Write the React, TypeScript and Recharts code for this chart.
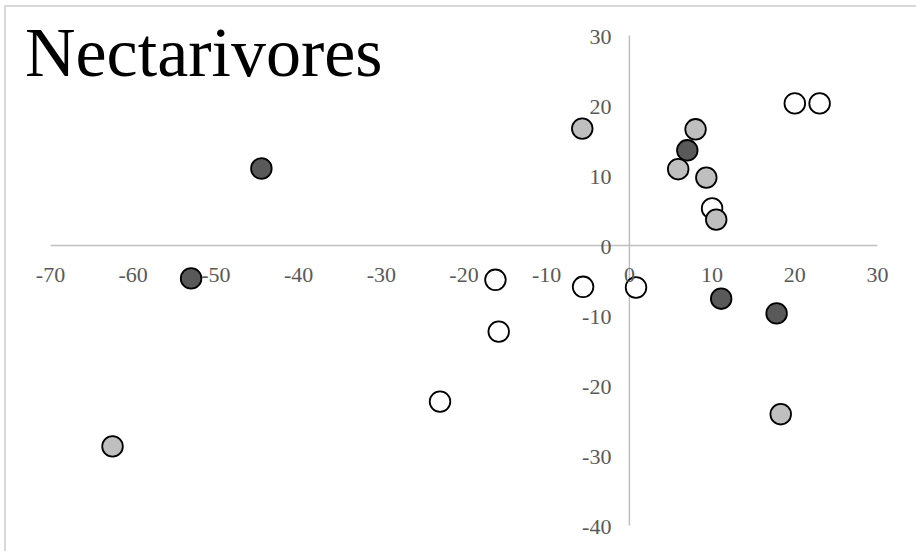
import React from "react";
import { ScatterChart, Scatter, XAxis, YAxis, ReferenceLine } from "recharts";

const xTicks = [-70, -60, -50, -40, -30, -20, -10, 0, 10, 20, 30];
const yTicks = [-40, -30, -20, -10, 0, 10, 20, 30];

const darkX = [-44.5, -53.0, 7.0, 11.1, 17.8];
const darkY = [11.0, -4.7, 13.6, -7.6, -9.7];

const grayX = [-5.7, 8.0, 5.9, 9.3, 10.5, 18.3, -62.5];
const grayY = [16.7, 16.6, 10.9, 9.7, 3.7, -24.1, -28.7];

const whiteX = [20.0, 23.0, 10.0, -16.2, -15.8, -22.9, -5.6, 0.8];
const whiteY = [20.3, 20.3, 5.3, -4.9, -12.3, -22.3, -5.9, -6.0];

const toPoints = (xs: number[], ys: number[]) => xs.map((x, i) => ({ x, y: ys[i] }));
const dark = toPoints(darkX, darkY);
const gray = toPoints(grayX, grayY);
const white = toPoints(whiteX, whiteY);

const W = 916;
const H = 551;
const AX = 20; // axis band size reserved (labels drawn at zero lines)
const M = { top: 35.5, right: 38.5, bottom: 25.5 - AX, left: 50.5 - AX };
const PLOT_LEFT = M.left + AX;
const PLOT_W = W - PLOT_LEFT - M.right;
const PLOT_H = H - M.top - (M.bottom + AX);
const X_MIN = -70, X_MAX = 30, Y_MIN = -40, Y_MAX = 30;
const ZERO_X = PLOT_LEFT + (PLOT_W * (0 - X_MIN)) / (X_MAX - X_MIN);
const ZERO_Y = M.top + (PLOT_H * (Y_MAX - 0)) / (Y_MAX - Y_MIN);

const FONT = "'Liberation Serif', 'Times New Roman', serif";
const TICK_COLOR = "#595959";
const AXIS_COLOR = "#bfbfbf";
const TICK_SIZE = 22;

const renderXTick = (props: any) => (
  <text
    key={`xt-${props.payload.value}`}
    x={props.x}
    y={ZERO_Y + 36}
    textAnchor="middle"
    fontFamily={FONT}
    fontSize={TICK_SIZE}
    fill={TICK_COLOR}
  >
    {props.payload.value}
  </text>
);

const renderYTick = (props: any) => (
  <text
    key={`yt-${props.payload.value}`}
    x={ZERO_X - 18}
    y={props.y + 8.5}
    textAnchor="end"
    fontFamily={FONT}
    fontSize={TICK_SIZE}
    fill={TICK_COLOR}
  >
    {props.payload.value}
  </text>
);

const makeDot = (fill: string) => (props: any) => (
  <circle cx={props.cx} cy={props.cy} r={10.3} fill={fill} stroke="#000" strokeWidth={1.8} />
);

export default function App() {
  return (
    <div style={{ position: "absolute", left: 0, top: 0, width: W, height: H, background: "#fff", overflow: "hidden" }}>
      <div
        style={{
          position: "absolute",
          left: 4,
          top: 5,
          width: W + 10,
          height: H + 10,
          borderTop: "2px solid #d9d9d9",
          borderLeft: "2px solid #d9d9d9",
        }}
      />
      <div
        style={{
          position: "absolute",
          left: 25,
          top: 81 - 63,
          fontFamily: FONT,
          fontSize: 70,
          lineHeight: "70px",
          color: "#000",
          whiteSpace: "nowrap",
        }}
      >
        Nectarivores
      </div>
      <div style={{ position: "absolute", left: 0, top: 0 }}>
        <ScatterChart width={W} height={H} margin={M}>
          <XAxis
            type="number"
            dataKey="x"
            domain={[X_MIN, X_MAX]}
            ticks={xTicks}
            height={AX}
            axisLine={false}
            tickLine={false}
            tick={renderXTick}
            interval={0}
            allowDataOverflow
          />
          <YAxis
            type="number"
            dataKey="y"
            domain={[Y_MIN, Y_MAX]}
            ticks={yTicks}
            width={AX}
            axisLine={false}
            tickLine={false}
            tick={renderYTick}
            interval={0}
            allowDataOverflow
          />
          <ReferenceLine y={0} stroke={AXIS_COLOR} strokeWidth={1.5} />
          <ReferenceLine x={0} stroke={AXIS_COLOR} strokeWidth={1.5} />
          <Scatter data={white} isAnimationActive={false} shape={makeDot("#ffffff")} />
          <Scatter data={dark} isAnimationActive={false} shape={makeDot("#595959")} />
          <Scatter data={gray} isAnimationActive={false} shape={makeDot("#bfbfbf")} />
        </ScatterChart>
      </div>
    </div>
  );
}
